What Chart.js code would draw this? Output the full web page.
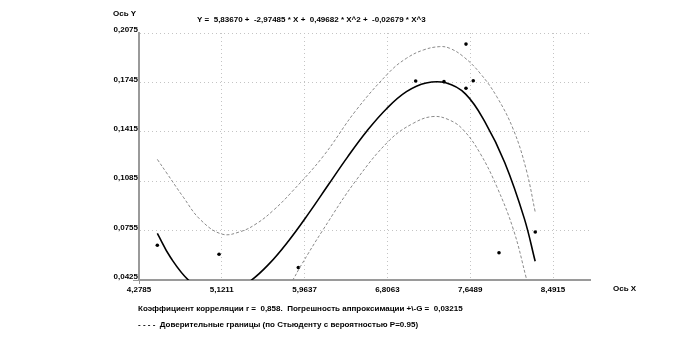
<!DOCTYPE html>
<html><head><meta charset="utf-8">
<script src="https://cdn.jsdelivr.net/npm/chart.js@4/dist/chart.umd.min.js"></script>
<style>html,body{margin:0;padding:0;background:#fff;}#wrap{width:696px;height:350px;position:relative;}</style>
</head><body><div id="wrap"><canvas id="c" width="696" height="350"></canvas></div>
<script>
// ---- data ----
const xTicks = [4.2785, 5.1211, 5.9637, 6.8063, 7.6489, 8.4915];
const yTicks = [0.0425, 0.0755, 0.1085, 0.1415, 0.1745, 0.2075];
const xAxisMin = 4.2785;
const xAxisMax = 8.868;

const pointsX = [4.465, 5.093, 5.900, 7.094, 7.382, 7.606, 7.606, 7.680, 7.942, 8.311];
const pointsY = [0.0657, 0.0597, 0.0508, 0.1754, 0.1750, 0.2001, 0.1706, 0.1756, 0.0607, 0.0746];

const fitX = [4.465, 4.6, 4.8, 5.0, 5.2, 5.4, 5.6, 5.8, 6.0, 6.2, 6.4, 6.6, 6.8, 7.0, 7.2, 7.4, 7.6, 7.8, 8.0, 8.2, 8.31];
const fitY = [0.0737, 0.0575, 0.0413, 0.0342, 0.0346, 0.0413, 0.0531, 0.0686, 0.0865, 0.1056, 0.1246, 0.1422, 0.1571, 0.1683, 0.1741, 0.1742, 0.1668, 0.1480, 0.1210, 0.0835, 0.0550];

const upperX = [4.465, 4.56, 4.73, 4.90, 5.12, 5.31, 5.48, 5.65, 5.82, 6.15, 6.49, 6.83, 7.00, 7.17, 7.34, 7.44, 7.58, 7.75, 7.92, 8.09, 8.22, 8.31];
const upperY = [0.1231, 0.1140, 0.0978, 0.0830, 0.0732, 0.0748, 0.0804, 0.0893, 0.1004, 0.1249, 0.1561, 0.1816, 0.1906, 0.1961, 0.1984, 0.1973, 0.1917, 0.1806, 0.1649, 0.1427, 0.1160, 0.0881];

const lowerX = [4.465, 4.8, 5.1, 5.4, 5.65, 5.843, 5.92, 6.15, 6.49, 6.83, 7.07, 7.27, 7.44, 7.58, 7.75, 7.92, 8.09, 8.22, 8.31];
const lowerY = [0.025, -0.004, -0.006, 0.005, 0.024, 0.0425, 0.0514, 0.0759, 0.1093, 0.1360, 0.1472, 0.1517, 0.1493, 0.1427, 0.1271, 0.1048, 0.0759, 0.0436, 0.020];

const yAxisTitle = 'Ось Y';
const xAxisTitle = 'Ось X';
const titleText = 'Y =  5,83670 +  -2,97485 * X +  0,49682 * X^2 +  -0,02679 * X^3';
const statsText = 'Коэффициент корреляции r =  0,858.  Погрешность аппроксимации +\\-G =  0,03215';
const legendText = '- - - -  Доверительные границы (по Стьюденту с вероятностью P=0.95)';

// ---- build ----
const zip = (xs, ys) => xs.map((x, i) => ({x: x, y: ys[i]}));
const FONT = '"Liberation Sans", Arial, sans-serif';
const fmt = v => v.toFixed(4).replace('.', ',');

const textPlugin = {
  id: 'texts',
  afterDraw(chart) {
    const ctx = chart.ctx;
    ctx.save();
    ctx.fillStyle = '#000';
    ctx.font = 'bold 8px ' + FONT;
    ctx.textBaseline = 'middle';
    ctx.textAlign = 'left';
    ctx.fillText(yAxisTitle, 113, 14);
    ctx.fillText(titleText, 197, 20);
    ctx.fillText(xAxisTitle, 613, 289);
    ctx.fillText(statsText, 138, 309);
    ctx.fillText(legendText, 138, 325);
    ctx.restore();
  }
};

const band = (data) => ({
  data: data, showLine: true, borderColor: '#8a8a8a', borderWidth: 1,
  borderDash: [3, 2], pointRadius: 0, tension: 0.4, fill: false
});

new Chart(document.getElementById('c'), {
  type: 'scatter',
  data: {
    datasets: [
      band(zip(upperX, upperY)),
      band(zip(lowerX, lowerY)),
      { data: zip(fitX, fitY), showLine: true, borderColor: '#000', borderWidth: 1.6,
        pointRadius: 0, tension: 0.4, fill: false },
      { data: zip(pointsX, pointsY), showLine: false, pointRadius: 1.8,
        pointBackgroundColor: '#000', pointBorderWidth: 0 }
    ]
  },
  options: {
    responsive: false, animation: false, devicePixelRatio: 1,
    layout: { padding: { left: 0, top: 33, right: 106, bottom: 0 } },
    plugins: { legend: { display: false }, tooltip: { enabled: false }, title: { display: false } },
    scales: {
      x: {
        type: 'linear', min: xAxisMin, max: xAxisMax,
        afterBuildTicks: s => { s.ticks = xTicks.map(v => ({value: v})); },
        afterFit: s => { s.height = 70; },
        grid: { color: '#c4c4c4', lineWidth: 1, drawTicks: true, tickLength: 4,
                tickColor: c => c.index === 0 ? '#999' : 'rgba(0,0,0,0)' },
        border: { display: true, color: '#9a9a9a', width: 2, dash: [1, 3] },
        ticks: { autoSkip: false, maxRotation: 0, padding: 1, color: '#000',
                 font: { family: FONT, size: 8, weight: 'bold' }, callback: v => fmt(v) }
      },
      y: {
        type: 'linear', min: yTicks[0], max: yTicks[yTicks.length - 1],
        afterBuildTicks: s => { s.ticks = yTicks.map(v => ({value: v})); },
        afterFit: s => { s.width = 139; },
        grid: { color: '#c4c4c4', lineWidth: 1, drawTicks: true, tickLength: 6,
                tickColor: c => c.index === 0 ? '#999' : 'rgba(0,0,0,0)' },
        border: { display: true, color: '#9a9a9a', width: 2, dash: [1, 3] },
        ticks: { autoSkip: false, padding: -5, labelOffset: -3, color: '#000',
                 font: { family: FONT, size: 8, weight: 'bold' }, callback: v => fmt(v) }
      }
    }
  },
  plugins: [textPlugin]
});
</script></body></html>
